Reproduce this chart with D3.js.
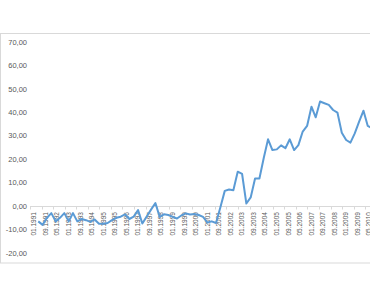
<!DOCTYPE html>
<html>
<head>
<meta charset="utf-8">
<script src="https://cdn.jsdelivr.net/npm/d3@7"></script>
<style>
  body { margin: 0; background: #fff; overflow: hidden; }
  text { font-family: "Liberation Sans", Arial, sans-serif; fill: #595959; }
</style>
</head>
<body>
<div id="chart"></div>
<script>
// quarterly values, first one is 02.1991
const firstPeriod = "02.1991";
const values = [
  -6.5, -8, -5, -3, -6.5, -5, -3, -6.5, -3, -6.5,
  -5.5, -6, -6.7, -5.7, -7.5, -7.5, -7.2, -6, -5, -4.5,
  -3.5, -5.5, -4.5, -1.7, -7.4, -4.5, -1.5, 1.3, -4.6, -3.5,
  -3.8, -4.6, -5.3, -4, -3.1, -3.6, -3.4, -3.8, -4.6, -7,
  -6.5, -7.2, -0.5, 6.5, 7.1, 6.8, 14.7, 13.7, 1.1, 3.7,
  11.8, 11.8, 20.5, 28.5, 23.9, 24.2, 25.9, 24.7, 28.5, 23.9,
  26, 31.8, 34.2, 42.4, 37.9, 44.6, 43.9, 43.2, 41, 39.9,
  31.3, 28.2, 27.1, 31, 36, 40.7, 34.2, 33.2, 33
];
const tickLabels = [
  "01.1991", "09.1991", "05.1992", "01.1993", "09.1993", "05.1994",
  "01.1995", "09.1995", "05.1996", "01.1997", "09.1997", "05.1998",
  "01.1999", "09.1999", "05.2000", "01.2001", "09.2001", "05.2002",
  "01.2003", "09.2003", "05.2004", "01.2005", "09.2005", "05.2006",
  "01.2007", "09.2007", "05.2008", "01.2009", "09.2009", "05.2010"
];
const yTicks = [70, 60, 50, 40, 30, 20, 10, 0, -10, -20];

const width = 370, height = 297;
const parse = d3.timeParse("%m.%Y");

const svg = d3.select("#chart").append("svg")
    .attr("width", width)
    .attr("height", height);

// chart border (runs off the right edge)
svg.append("rect")
    .attr("x", 0.5)
    .attr("y", 33.5)
    .attr("width", 420)
    .attr("height", 229.5)
    .attr("fill", "none")
    .attr("stroke", "#d9d9d9");

const x = d3.scaleTime()
    .domain([parse("01.1991"), parse("09.2009")])
    .range([34, 357.7]);

const y = d3.scaleLinear()
    .domain([-20, 70])
    .range([253, 42]);

const dates = d3.timeMonth.every(3).range(parse(firstPeriod), parse("12.2015")).slice(0, values.length);
const data = values.map((v, i) => ({ date: dates[i], value: v }));

// y labels
svg.selectAll(".ylab")
    .data(yTicks)
    .enter()
    .append("text")
    .attr("class", "ylab")
    .attr("x", 27)
    .attr("y", d => y(d))
    .attr("dy", "0.35em")
    .attr("text-anchor", "end")
    .style("font-size", "7.5px")
    .text(d => d3.format(".2f")(d).replace(".", ",").replace("−", "-"));

// category axis at zero
svg.append("line")
    .attr("x1", 30)
    .attr("x2", width)
    .attr("y1", Math.round(y(0)) + 0.5)
    .attr("y2", Math.round(y(0)) + 0.5)
    .attr("stroke", "#d9d9d9");

svg.selectAll(".tick")
    .data(tickLabels)
    .enter()
    .append("line")
    .attr("class", "tick")
    .attr("x1", d => Math.round(x(parse(d)) - 4) + 0.5)
    .attr("x2", d => Math.round(x(parse(d)) - 4) + 0.5)
    .attr("y1", Math.round(y(0)) + 0.5)
    .attr("y2", Math.round(y(0)) + 3.5)
    .attr("stroke", "#d9d9d9");

svg.selectAll(".xlab")
    .data(tickLabels)
    .enter()
    .append("text")
    .attr("class", "xlab")
    .attr("transform", d => `translate(${x(parse(d))},${y(0) + 6}) rotate(-90)`)
    .attr("dy", "0.35em")
    .attr("text-anchor", "end")
    .style("font-size", "6.5px")
    .text(d => d);

// line
const line = d3.line()
    .x(d => x(d.date))
    .y(d => y(d.value));

svg.append("path")
    .datum(data)
    .attr("d", line)
    .attr("fill", "none")
    .attr("stroke", "#5b9bd5")
    .attr("stroke-width", 2)
    .attr("stroke-linejoin", "round");
</script>
</body>
</html>
